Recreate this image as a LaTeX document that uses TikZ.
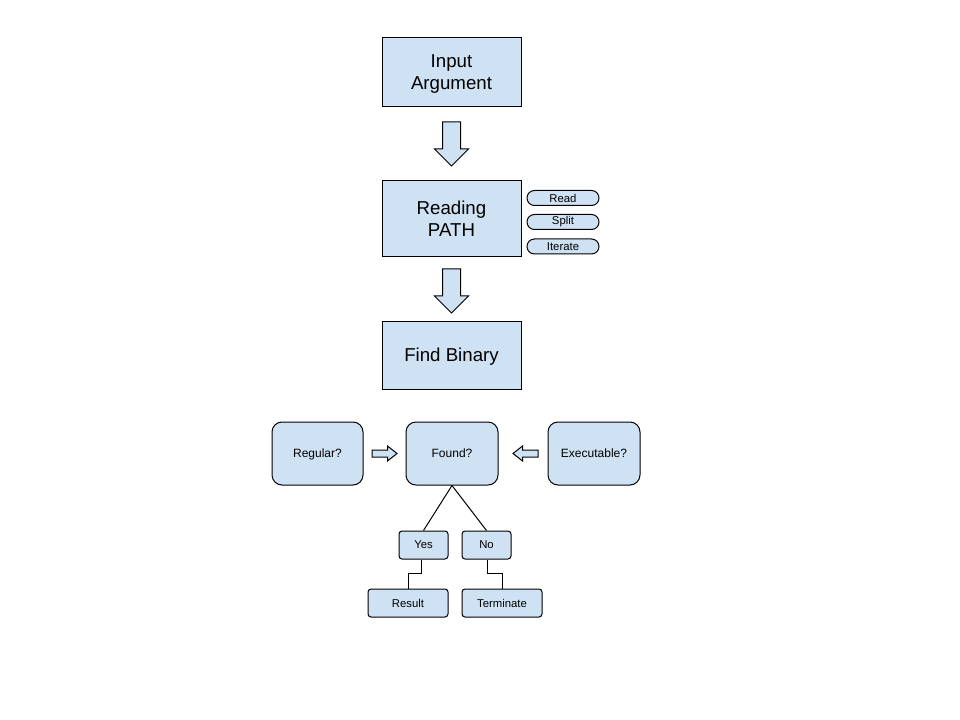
\documentclass[tikz,border=0pt]{standalone}
\usepackage{fontspec}
\setmainfont{Liberation Sans}
\definecolor{boxblue}{HTML}{CFE2F3}
\tikzset{
  bigbox/.style={draw, fill=boxblue, line width=0.75pt, align=center, text depth=0pt,
    minimum width=104.25pt, font=\fontsize{14}{16.5}\selectfont},
  roundbox/.style={draw, fill=boxblue, line width=0.75pt, rounded corners=7.5pt, text depth=0pt,
    minimum width=69pt, minimum height=47.25pt, font=\fontsize{9}{11}\selectfont},
  pill/.style={draw, fill=boxblue, line width=0.75pt, rounded corners=5.6pt,
    minimum width=54pt, minimum height=11.25pt, inner sep=0pt, font=\fontsize{8.5}{10}\selectfont},
  smallbox/.style={draw, fill=boxblue, line width=0.75pt, rounded corners=2.25pt, text depth=0pt,
    minimum height=21pt, inner sep=0pt, font=\fontsize{8.5}{10}\selectfont},
  downarrow/.pic={
    \filldraw[fill=boxblue, line width=0.75pt] (-9,0) -- (-9,27) -- (-17,27) -- (0,44)
      -- (17,27) -- (9,27) -- (9,0) -- cycle;},
  rightarrow/.pic={
    \filldraw[fill=boxblue, line width=0.75pt] (0,-3.5) -- (15.5,-3.5) -- (15.5,-7.5)
      -- (25,0) -- (15.5,7.5) -- (15.5,3.5) -- (0,3.5) -- cycle;}
}
\begin{document}
\begin{tikzpicture}[x=0.75pt, y=-0.75pt]
  \fill[white] (0,0) rectangle (960,720);
  \useasboundingbox (0,0) rectangle (960,720);

  % main column
  \node[bigbox, minimum height=51.75pt] (input) at (451.5,72.5) {Input\\Argument};
  \node[bigbox, minimum height=57pt] (reading) at (451.5,219) {Reading\\PATH};
  \node[bigbox, minimum height=51pt] (find) at (451.5,355) {Find Binary};
  \pic at (451.5,122) {downarrow};
  \pic at (451.5,269) {downarrow};

  % steps of reading
  \node[pill] (read) at (563,198) {Read};
  \node[pill] (split) at (563,222) {Split};
  \node[pill] (iterate) at (563,246.5) {Iterate};

  % checks
  \node[roundbox, minimum width=68.25pt] (regular) at (317.5,453.5) {Regular?};
  \node[roundbox] (found) at (452,453.5) {Found?};
  \node[roundbox] (exec) at (594,453.5) {Executable?};
  \pic at (372,453.5) {rightarrow};
  \pic[rotate=180] at (538,453.5) {rightarrow};

  % outcome
  \node[smallbox, minimum width=36.75pt] (yes) at (423.5,545) {Yes};
  \node[smallbox, minimum width=36.75pt] (no) at (486.5,545) {No};
  \node[smallbox, minimum width=60pt] (result) at (408,603) {Result};
  \node[smallbox, minimum width=60pt] (terminate) at (502,603) {Terminate};
  \draw[line width=0.75pt] (found.south) -- (yes.north);
  \draw[line width=0.75pt] (found.south) -- (no.north);
  \draw[line width=0.75pt] (yes.south) ++(-2.5,0) -- ++(0,14) -| (result.north);
  \draw[line width=0.75pt] (no.south) ++(1,0) -- ++(0,14) -| (terminate.north);
\end{tikzpicture}
\end{document}
